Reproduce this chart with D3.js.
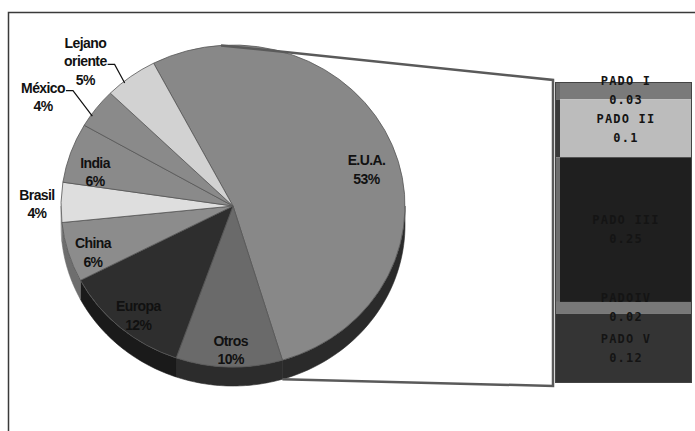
<!DOCTYPE html>
<html>
<head>
<meta charset="utf-8">
<script src="https://cdn.jsdelivr.net/npm/d3@7"></script>
<style>
  html, body { margin: 0; padding: 0; background: #fff; }
  svg { display: block; }
</style>
</head>
<body>
<svg id="chart" width="695" height="431"></svg>
<script>
// Regional shares (pie) and breakdown of the largest slice (bar)
const regions = ["E.U.A.", "Otros", "Europa", "China", "Brasil", "India", "México", "Lejano oriente"];
const shares = [53, 10, 12, 6, 4, 6, 4, 5];
const grades = ["PADO I", "PADO II", "PADO III", "PADOIV", "PADO V"];
const gradeValues = [0.03, 0.1, 0.25, 0.02, 0.12];

// Styling
const sliceColors = ["#888888", "#6a6a6a", "#2e2e2e", "#8c8c8c", "#dedede", "#8a8a8a", "#8a8a8a", "#d2d2d2"];
const sideColors  = ["#2a2a2a", "#2c2c2c", "#1a1a1a", "#6e6e6e", "#9a9a9a", "#707070", "#707070", "#9a9a9a"];
const gradeColors = ["#7a7a7a", "#bcbcbc", "#1f1f1f", "#787878", "#343434"];
const gradeEdge   = ["#6a6a6a", "#3a3a3a", "#6e6e6e", "#787878", "#333333"];

const svg = d3.select("#chart");
const W = 695, H = 431;
svg.append("rect").attr("width", W).attr("height", H).attr("fill", "#fff");

// outer frame
svg.append("rect")
  .attr("x", 8.5).attr("y", 12.5).attr("width", 700).attr("height", 440)
  .attr("fill", "none").attr("stroke", "#3a3a3a").attr("stroke-width", 1.5);

// pie geometry (tilted, so drawn as an ellipse with a side wall)
const cx = 233, cy = 206, rx = 172, ry = 161, depth = 19;
const k = ry / rx;
const deg = Math.PI / 180;
const start = -27.5 * deg;

const pie = d3.pie().sort(null).value(d => d)
  .startAngle(start).endAngle(start + 2 * Math.PI);
const arcs = pie(shares);

const pt = (a, r = rx, dy = 0) => [cx + Math.sin(a) * r, cy - Math.cos(a) * r * k + dy];

// side wall, visible on the front half only
const sideG = svg.append("g");
arcs.forEach((d, i) => {
  const a0 = Math.max(d.startAngle, Math.PI / 2);
  const a1 = Math.min(d.endAngle, 3 * Math.PI / 2);
  if (a1 <= a0) return;
  const n = 40, top = [], bot = [];
  for (let j = 0; j <= n; j++) {
    const a = a0 + (a1 - a0) * j / n;
    top.push(pt(a));
    bot.push(pt(a, rx, depth));
  }
  const pts = top.concat(bot.reverse());
  sideG.append("path")
    .attr("d", d3.line()(pts) + "Z")
    .attr("fill", sideColors[i])
    .attr("stroke", sideColors[i]).attr("stroke-width", 0.6);
});

// top face
const arc = d3.arc().innerRadius(0).outerRadius(rx);
const topG = svg.append("g").attr("transform", `translate(${cx},${cy}) scale(1,${k})`);
topG.selectAll("path").data(arcs).join("path")
  .attr("d", arc)
  .attr("fill", (d, i) => sliceColors[i])
  .attr("stroke", "#555")
  .attr("stroke-width", 0.8)
  .attr("vector-effect", "non-scaling-stroke");

// connector to the bar
const barX0 = 555, barX1 = 692;
const y = d3.scaleLinear().domain([0, d3.sum(gradeValues)]).range([82, 383]);
const eua = arcs[0];
const conn = [pt(-4 * deg), [barX0 - 2, y(0) - 2], [barX0 - 2, y.range()[1] + 3], pt(eua.endAngle, rx, depth)];
svg.append("path")
  .attr("d", d3.line()(conn))
  .attr("fill", "none").attr("stroke", "#5a5a5a").attr("stroke-width", 2.5);

// stacked bar
let acc = 0;
const segs = gradeValues.map((v, i) => { const s = { i, v, y0: acc, y1: acc + v }; acc += v; return s; });
const barG = svg.append("g");
segs.forEach(s => {
  barG.append("rect")
    .attr("x", barX0 + 5).attr("y", y(s.y0))
    .attr("width", barX1 - barX0 - 5).attr("height", y(s.y1) - y(s.y0))
    .attr("fill", gradeColors[s.i]);
  barG.append("rect")
    .attr("x", barX0).attr("y", y(s.y0))
    .attr("width", 5).attr("height", y(s.y1) - y(s.y0))
    .attr("fill", gradeEdge[s.i]);
});
barG.append("rect")
  .attr("x", barX0 + 0.5).attr("y", y(0) + 0.5)
  .attr("width", barX1 - barX0 - 1).attr("height", y.range()[1] - y(0) - 1)
  .attr("fill", "none").attr("stroke", "#444").attr("stroke-width", 1);

segs.forEach(s => {
  const mid = (y(s.y0) + y(s.y1)) / 2;
  const tx = (barX0 + 5 + barX1) / 2;
  [grades[s.i], String(s.v)].forEach((t, j) => {
    barG.append("text")
      .attr("x", tx).attr("y", mid + (j - 0.5) * 19)
      .attr("text-anchor", "middle").attr("dominant-baseline", "central")
      .attr("font-family", "'DejaVu Sans Mono', 'Liberation Mono', monospace")
      .attr("font-weight", "bold").attr("font-size", 12)
      .attr("letter-spacing", 1.2)
      .attr("fill", "#141414")
      .text(t);
  });
});

// slice labels
const outside = new Set(["Brasil", "México", "Lejano oriente"]);
const nudge = {
  "E.U.A.": [-2, 15], "Otros": [1, 7], "Europa": [1, 6], "China": [0, 7], "India": [0, 11],
  "Brasil": [0, 2], "México": [-34, 2], "Lejano oriente": [-31, 3]
};
const labelG = svg.append("g")
  .attr("font-family", "'Liberation Sans', Arial, sans-serif")
  .attr("font-weight", "bold").attr("font-size", 14)
  .attr("letter-spacing", -0.6)
  .attr("fill", "#111");
arcs.forEach((d, i) => {
  const name = regions[i];
  const mid = (d.startAngle + d.endAngle) / 2;
  const r = outside.has(name) ? rx * 1.14 : rx * 0.85;
  const [bx, by] = pt(mid, r);
  const px = bx + nudge[name][0], py = by + nudge[name][1];
  const lines = name === "Lejano oriente" ? ["Lejano", "oriente"] : [name];
  lines.push(shares[i] + "%");
  let lastNameNode = null;
  lines.forEach((t, j) => {
    const node = labelG.append("text")
      .attr("x", px).attr("y", py + (j - (lines.length - 1) / 2) * 18.5)
      .attr("text-anchor", "middle").attr("dominant-baseline", "central")
      .text(t);
    if (j === lines.length - 2) lastNameNode = node;
  });
  if (name === "México" || name === "Lejano oriente") {
    const w = lastNameNode.node().getComputedTextLength();
    const ly = +lastNameNode.attr("y") + 3;
    const sx = px + w / 2 + 1;
    const end = pt(mid - 3 * deg, rx * 0.99);
    svg.append("path")
      .attr("d", d3.line()([[sx, ly], [sx + 7, ly], end]))
      .attr("fill", "none").attr("stroke", "#111").attr("stroke-width", 1.2);
  }
});
</script>
</body>
</html>
